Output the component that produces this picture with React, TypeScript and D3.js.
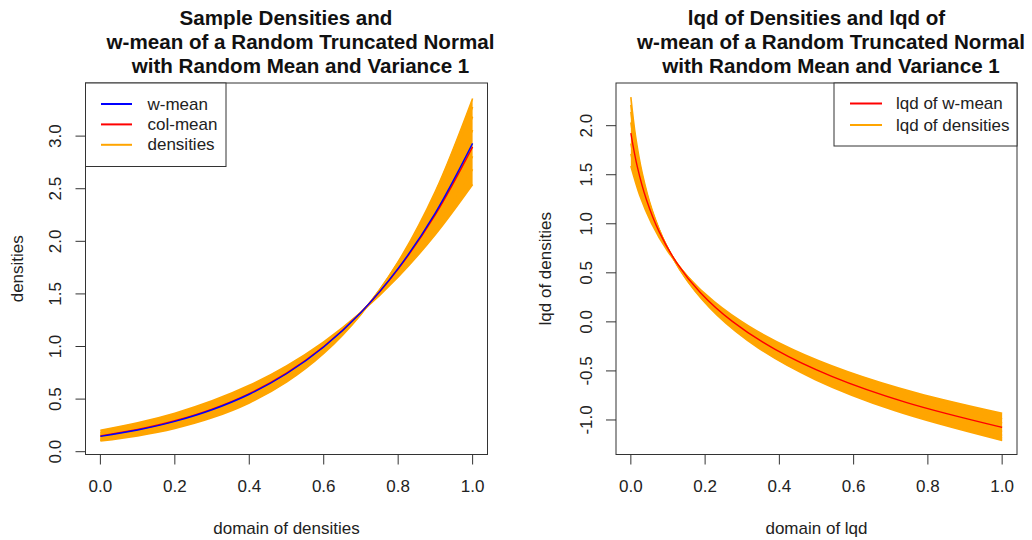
import React from 'react';
import * as d3 from 'd3';

// ---------- data ----------
const X_GRID = [0, 0.1, 0.2, 0.3, 0.4, 0.5, 0.6, 0.7, 0.8, 0.9, 1.0];

// sample densities (values at X_GRID)
const DENS_1 = [0.2043, 0.2749, 0.3663, 0.4833, 0.6312, 0.8161, 1.0448, 1.3242, 1.6617, 2.0645, 2.5393];
const DENS_2 = [0.1804, 0.2471, 0.3353, 0.4503, 0.5988, 0.7883, 1.0275, 1.326, 1.6941, 2.1429, 2.6836];
const DENS_3 = [0.1623, 0.2258, 0.311, 0.424, 0.5723, 0.7649, 1.012, 1.3257, 1.7193, 2.2077, 2.8066];
const DENS_4 = [0.131, 0.1878, 0.2665, 0.3744, 0.5208, 0.7172, 0.9779, 1.32, 1.7642, 2.3342, 3.0577];
const DENS_5 = [0.1175, 0.1709, 0.2462, 0.3512, 0.4959, 0.6932, 0.9594, 1.3147, 1.7835, 2.3955, 3.1855];
const DENS_6 = [0.1094, 0.1608, 0.2339, 0.337, 0.4806, 0.6784, 0.9485, 1.3127, 1.7988, 2.4404, 3.2775];
const DENS_7 = [0.1014, 0.1505, 0.2212, 0.3218, 0.4636, 0.6612, 0.9336, 1.3051, 1.8063, 2.4752, 3.358];
const W_MEAN = [0.1459, 0.206, 0.288, 0.3986, 0.5462, 0.7409, 0.9952, 1.3233, 1.7422, 2.2708, 2.9305];
const COL_MEAN = [0.1502, 0.2112, 0.2941, 0.4054, 0.5532, 0.7475, 1.0, 1.3245, 1.7367, 2.2545, 2.898];

// lqd of densities: domain points (t) and values
const LQD_T_1 = [0, 0.0238, 0.0557, 0.0979, 0.1534, 0.2253, 0.318, 0.436, 0.5847, 0.7705, 1.0];
const LQD_V_1 = [1.5882, 1.2912, 1.0042, 0.7272, 0.4602, 0.2032, -0.0438, -0.2808, -0.5078, -0.7248, -0.9318];
const LQD_T_2 = [0, 0.0212, 0.0502, 0.0892, 0.1413, 0.2103, 0.3007, 0.4179, 0.5683, 0.7594, 1.0];
const LQD_V_2 = [1.7128, 1.3978, 1.0928, 0.7978, 0.5128, 0.2378, -0.0272, -0.2822, -0.5272, -0.7622, -0.9872];
const LQD_T_3 = [0, 0.0193, 0.0459, 0.0824, 0.1319, 0.1984, 0.2867, 0.403, 0.5546, 0.7502, 1.0];
const LQD_V_3 = [1.818, 1.488, 1.168, 0.858, 0.558, 0.268, -0.012, -0.282, -0.542, -0.792, -1.032];
const LQD_T_4 = [0, 0.0158, 0.0383, 0.0701, 0.1145, 0.176, 0.2602, 0.3744, 0.5278, 0.7317, 1.0];
const LQD_V_4 = [2.0324, 1.6724, 1.3224, 0.9824, 0.6524, 0.3324, 0.0224, -0.2776, -0.5676, -0.8476, -1.1176];
const LQD_T_5 = [0, 0.0143, 0.0349, 0.0646, 0.1066, 0.1656, 0.2476, 0.3606, 0.5145, 0.7224, 1.0];
const LQD_V_5 = [2.1414, 1.7664, 1.4014, 1.0464, 0.7014, 0.3664, 0.0414, -0.2736, -0.5786, -0.8736, -1.1586];
const LQD_T_6 = [0, 0.0134, 0.0329, 0.0611, 0.1015, 0.1589, 0.2395, 0.3516, 0.5059, 0.7162, 1.0];
const LQD_V_6 = [2.2129, 1.8279, 1.4529, 1.0879, 0.7329, 0.3879, 0.0529, -0.2721, -0.5871, -0.8921, -1.1871];
const LQD_T_7 = [0, 0.0125, 0.0309, 0.0577, 0.0967, 0.1524, 0.2316, 0.3427, 0.4972, 0.71, 1.0];
const LQD_V_7 = [2.2906, 1.8956, 1.5106, 1.1356, 0.7706, 0.4156, 0.0706, -0.2644, -0.5894, -0.9044, -1.2094];
const LQD_T_WMEAN = [0, 0.0175, 0.042, 0.0761, 0.123, 0.1869, 0.2733, 0.3886, 0.5411, 0.7409, 1.0];
const LQD_V_WMEAN = [1.9248, 1.5798, 1.2448, 0.9198, 0.6048, 0.2998, 0.0048, -0.2802, -0.5552, -0.8202, -1.0752];

const X_TICKS = [0, 0.2, 0.4, 0.6, 0.8, 1.0];
const Y_TICKS_LEFT = [0, 0.5, 1.0, 1.5, 2.0, 2.5, 3.0];
const Y_TICKS_RIGHT = [-1.0, -0.5, 0, 0.5, 1.0, 1.5, 2.0];

const TITLE_LEFT = ['Sample Densities and', 'w-mean of a Random Truncated Normal', 'with Random Mean and Variance 1'];
const TITLE_RIGHT = ['lqd of Densities and lqd of', 'w-mean of a Random Truncated Normal', 'with Random Mean and Variance 1'];
const LEGEND_LEFT = ['w-mean', 'col-mean', 'densities'];
const LEGEND_RIGHT = ['lqd of w-mean', 'lqd of densities'];

// ---------- styling ----------
const FONT = '"Liberation Sans", Arial, Helvetica, sans-serif';
const ORANGE = '#FFA500';
const RED = '#FF0000';
const BLUE = '#0000FF';
const FRAME = '#333';
const fmt = (v: number) => d3.format('.1f')(v).replace('\u2212', '-');

type Rect = { l: number; r: number; t: number; b: number };

const toPts = (xs: number[], ys: number[]) => xs.map((x, i) => [x, ys[i]] as [number, number]);

function Frame({ rect, xs, ys, yTicks, yLabelX, yTitle, yTitleX, xTitle }: any) {
  return (
    <g>
      <rect x={rect.l} y={rect.t} width={rect.r - rect.l} height={rect.b - rect.t} fill="none" stroke={FRAME} strokeWidth={1} />
      {X_TICKS.map((v) => (
        <g key={'x' + v}>
          <line x1={xs(v)} x2={xs(v)} y1={rect.b} y2={rect.b + 10} stroke={FRAME} strokeWidth={1} />
          <text x={xs(v)} y={492} textAnchor="middle" fontSize={17} fill="#222" fontFamily={FONT}>{fmt(v)}</text>
        </g>
      ))}
      {yTicks.map((v: number) => (
        <g key={'y' + v}>
          <line x1={rect.l - 10} x2={rect.l} y1={ys(v)} y2={ys(v)} stroke={FRAME} strokeWidth={1} />
          <text transform={`translate(${yLabelX},${ys(v)}) rotate(-90)`} textAnchor="middle" dominantBaseline="central" fontSize={17} fill="#222" fontFamily={FONT}>{fmt(v)}</text>
        </g>
      ))}
      <text x={(rect.l + rect.r) / 2} y={534} textAnchor="middle" fontSize={17} fill="#222" fontFamily={FONT}>{xTitle}</text>
      <text transform={`translate(${yTitleX},${(rect.t + rect.b) / 2}) rotate(-90)`} textAnchor="middle" fontSize={17} fill="#222" fontFamily={FONT}>{yTitle}</text>
    </g>
  );
}

function Title({ lines, centers }: { lines: string[]; centers: number[] }) {
  const ys = [25, 49, 73];
  return (
    <g>
      {lines.map((s, i) => (
        <text key={i} x={centers[i]} y={ys[i]} textAnchor="middle" fontSize={20.6} fontWeight="bold" fill="#111" fontFamily={FONT}>{s}</text>
      ))}
    </g>
  );
}

export default function App() {
  const L: Rect = { l: 85.5, r: 487.5, t: 83, b: 454.5 };
  const R: Rect = { l: 616, r: 1017, t: 83, b: 454.5 };

  const xL = d3.scaleLinear().domain([-0.04, 1.04]).range([L.l, L.r]);
  const yL = d3.scaleLinear().domain([-0.0266, 3.505]).range([L.b, L.t]);
  const xR = d3.scaleLinear().domain([-0.04, 1.04]).range([R.l, R.r]);
  const yR = d3.scaleLinear().domain([-1.352, 2.435]).range([R.b, R.t]);

  const lineL = d3.line<[number, number]>().x((d) => xL(d[0])).y((d) => yL(d[1])).curve(d3.curveCatmullRom.alpha(0.5));
  const lineR = d3.line<[number, number]>().x((d) => xR(d[0])).y((d) => yR(d[1])).curve(d3.curveCatmullRom.alpha(0.5));

  const densCurves = [DENS_1, DENS_2, DENS_3, DENS_4, DENS_5, DENS_6, DENS_7];
  const lqdCurves = [
    [LQD_T_1, LQD_V_1], [LQD_T_2, LQD_V_2], [LQD_T_3, LQD_V_3], [LQD_T_4, LQD_V_4],
    [LQD_T_5, LQD_V_5], [LQD_T_6, LQD_V_6], [LQD_T_7, LQD_V_7],
  ];

  // band polygons (first curve forward, last curve backward)
  const bandPath = (line: any, a: [number, number][], b: [number, number][]) => {
    const pa = line(a) as string;
    const pb = (line(b.slice().reverse()) as string).replace(/^M/, 'L');
    return pa + pb + 'Z';
  };
  const bandL = bandPath(lineL, toPts(X_GRID, DENS_7), toPts(X_GRID, DENS_1));
  const bandR = bandPath(lineR, toPts(LQD_T_7, LQD_V_7), toPts(LQD_T_1, LQD_V_1));

  return (
    <svg width={1032} height={540} style={{ position: 'absolute', left: 0, top: 0, background: '#fff' }} xmlns="http://www.w3.org/2000/svg">
      <defs>
        <clipPath id="clipL"><rect x={L.l} y={L.t} width={L.r - L.l} height={L.b - L.t} /></clipPath>
        <clipPath id="clipR"><rect x={R.l} y={R.t} width={R.r - R.l} height={R.b - R.t} /></clipPath>
      </defs>
      <rect x={0} y={0} width={1032} height={540} fill="#fff" />

      {/* left panel */}
      <g clipPath="url(#clipL)">
        <path d={bandL} fill={ORANGE} stroke="none" />
        {densCurves.map((c, i) => (
          <path key={i} d={lineL(toPts(X_GRID, c)) as string} fill="none" stroke={ORANGE} strokeWidth={1.6} />
        ))}
        <path d={lineL(toPts(X_GRID, COL_MEAN)) as string} fill="none" stroke={RED} strokeWidth={1.4} />
        <path d={lineL(toPts(X_GRID, W_MEAN)) as string} fill="none" stroke={BLUE} strokeWidth={1.4} />
      </g>
      <Frame rect={L} xs={xL} ys={yL} yTicks={Y_TICKS_LEFT} yLabelX={55} yTitle="densities" yTitleX={23} xTitle="domain of densities" />
      <Title lines={TITLE_LEFT} centers={[286, 300.5, 300.5]} />
      <g>
        <rect x={L.l} y={L.t} width={140.5} height={83.5} fill="#fff" stroke={FRAME} strokeWidth={1} />
        {LEGEND_LEFT.map((s, i) => {
          const y = 104 + i * 20.4;
          const col = [BLUE, RED, ORANGE][i];
          return (
            <g key={s}>
              <line x1={101} x2={132} y1={y} y2={y} stroke={col} strokeWidth={2} />
              <text x={147.5} y={y} dominantBaseline="central" fontSize={17} fill="#222" fontFamily={FONT}>{s}</text>
            </g>
          );
        })}
      </g>

      {/* right panel */}
      <g clipPath="url(#clipR)">
        <path d={bandR} fill={ORANGE} stroke="none" />
        {lqdCurves.map((c, i) => (
          <path key={i} d={lineR(toPts(c[0], c[1])) as string} fill="none" stroke={ORANGE} strokeWidth={1.6} />
        ))}
        <path d={lineR(toPts(LQD_T_WMEAN, LQD_V_WMEAN)) as string} fill="none" stroke={RED} strokeWidth={1.4} />
      </g>
      <Frame rect={R} xs={xR} ys={yR} yTicks={Y_TICKS_RIGHT} yLabelX={586.5} yTitle="lqd of densities" yTitleX={551} xTitle="domain of lqd" />
      <Title lines={TITLE_RIGHT} centers={[816.5, 831, 831]} />
      <g>
        <rect x={834} y={R.t} width={R.r - 834} height={63} fill="#fff" stroke={FRAME} strokeWidth={1} />
        {LEGEND_RIGHT.map((s, i) => {
          const y = 103.5 + i * 21.5;
          const col = [RED, ORANGE][i];
          return (
            <g key={s}>
              <line x1={850} x2={882} y1={y} y2={y} stroke={col} strokeWidth={2} />
              <text x={896} y={y} dominantBaseline="central" fontSize={17} fill="#222" fontFamily={FONT}>{s}</text>
            </g>
          );
        })}
      </g>
    </svg>
  );
}
